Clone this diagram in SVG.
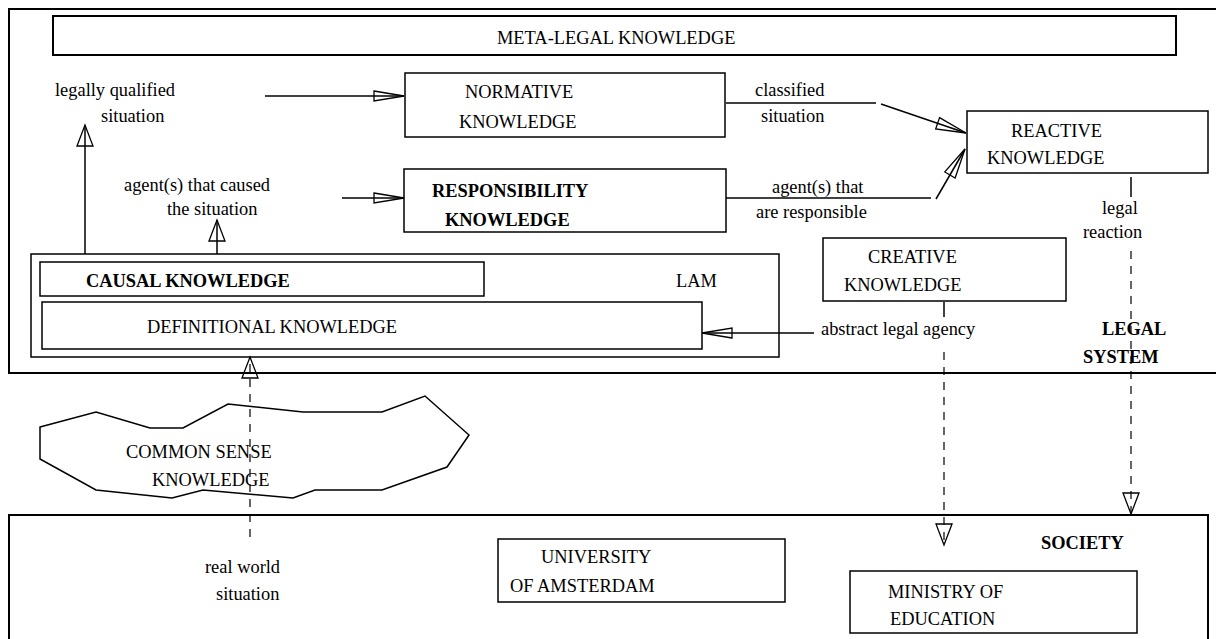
<svg xmlns="http://www.w3.org/2000/svg" width="1216" height="639" viewBox="0 0 1216 639">
<style>
.box{fill:none;stroke:#000;stroke-width:1.5}
.outer{fill:none;stroke:#000;stroke-width:2}
.t{font-family:"Liberation Serif","Times New Roman",serif;font-size:18.4px;fill:#000}
.b{font-weight:bold}
.c{fill:none;stroke:#000;stroke-width:1.5}
.d{fill:none;stroke:#000;stroke-width:1.2;stroke-dasharray:8 7}
</style>
<defs>
<marker id="ah" viewBox="0 0 30 10" refX="30" refY="5" markerWidth="30" markerHeight="10" orient="auto" markerUnits="userSpaceOnUse" overflow="visible">
<path d="M0,0 L30,5 L0,10 Z" fill="none" stroke="#000" stroke-width="1.3" stroke-dasharray="none"/>
</marker>
<marker id="ad" viewBox="0 0 30 12" refX="30" refY="6" markerWidth="30" markerHeight="12" orient="auto" markerUnits="userSpaceOnUse" overflow="visible">
<path d="M0,0 L30,6 L0,12 Z" fill="none" stroke="#000" stroke-width="1.3" stroke-dasharray="none"/>
</marker>
<marker id="av" viewBox="0 0 21 16" refX="21" refY="8" markerWidth="21" markerHeight="16" orient="auto" markerUnits="userSpaceOnUse" overflow="visible">
<path d="M0,0 L21,8 L0,16 Z" fill="none" stroke="#000" stroke-width="1.3" stroke-dasharray="none"/>
</marker>
</defs>
<rect width="1216" height="639" fill="#fff"/>

<g id="legal-system">
<rect class="outer" x="9" y="9" width="1220" height="364"/>
<text class="t b" x="1102" y="335">LEGAL</text>
<text class="t b" x="1083" y="363">SYSTEM</text>
</g>

<g id="society">
<rect class="outer" x="9" y="515" width="1199" height="140"/>
<text class="t b" x="1041" y="549">SOCIETY</text>
</g>

<g id="meta-legal">
<rect class="outer" x="53" y="16" width="1123" height="39"/>
<text class="t" x="497" y="44">META-LEGAL KNOWLEDGE</text>
</g>

<g id="normative">
<rect class="box" x="405" y="73" width="320" height="64"/>
<text class="t" x="465" y="98">NORMATIVE</text>
<text class="t" x="459" y="128">KNOWLEDGE</text>
</g>

<g id="responsibility">
<rect class="box" x="404" y="169" width="322" height="63"/>
<text class="t b" x="432" y="197">RESPONSIBILITY</text>
<text class="t b" x="445" y="226">KNOWLEDGE</text>
</g>

<g id="reactive">
<rect class="box" x="967" y="111" width="241" height="62"/>
<text class="t" x="1011" y="137">REACTIVE</text>
<text class="t" x="987" y="164">KNOWLEDGE</text>
</g>

<g id="creative">
<rect class="box" x="823" y="238" width="243" height="63"/>
<text class="t" x="868" y="263">CREATIVE</text>
<text class="t" x="844" y="291">KNOWLEDGE</text>
</g>

<g id="lam">
<rect class="box" x="31" y="254" width="748" height="103"/>
<text class="t" x="676" y="287">LAM</text>
</g>

<g id="causal">
<rect class="box" x="40" y="262" width="444" height="34"/>
<text class="t b" x="86" y="287">CAUSAL KNOWLEDGE</text>
</g>

<g id="definitional">
<rect class="box" x="42" y="302" width="660" height="47"/>
<text class="t" x="147" y="333">DEFINITIONAL KNOWLEDGE</text>
</g>

<g id="common-sense">
<polygon class="box" points="40,427 96,412 150,428 183,428 228,404 303,412 382,412 425,396 469,435 447,467 382,490 315,490 293,498 203,490 172,498 96,490 40,459"/>
<text class="t" x="126" y="458">COMMON SENSE</text>
<text class="t" x="152" y="486">KNOWLEDGE</text>
</g>

<g id="university">
<rect class="box" x="498" y="539" width="287" height="63"/>
<text class="t" x="541" y="563">UNIVERSITY</text>
<text class="t" x="510" y="592">OF AMSTERDAM</text>
</g>

<g id="ministry">
<rect class="box" x="850" y="571" width="287" height="62"/>
<text class="t" x="888" y="598">MINISTRY OF</text>
<text class="t" x="890" y="625">EDUCATION</text>
</g>

<g id="connectors">
<path class="c" d="M265,96 H404" marker-end="url(#ah)"/>
<path class="c" d="M342,198 H404" marker-end="url(#ah)"/>
<path class="c" d="M726,103 H876"/>
<path class="c" d="M881,104 L966,133" marker-end="url(#ad)"/>
<path class="c" d="M726,198 H931"/>
<path class="c" d="M936,199 L965,149" marker-end="url(#ad)"/>
<path class="c" d="M85,254 V125" marker-end="url(#av)"/>
<path class="c" d="M217,254 V220" marker-end="url(#av)"/>
<path class="c" d="M814,333 H702" marker-end="url(#ah)"/>
<path class="d" d="M250,537 V357" marker-end="url(#av)"/>
<path class="c" d="M944,302 V317"/>
<path class="d" d="M944,352 V545" marker-end="url(#av)"/>
<path class="c" d="M1131,177 V197"/>
<path class="d" d="M1131,251 V514" marker-end="url(#av)"/>
</g>

<g id="labels">
<text class="t" x="55" y="96">legally qualified</text>
<text class="t" x="101" y="122">situation</text>
<text class="t" x="124" y="191">agent(s) that caused</text>
<text class="t" x="167" y="215">the situation</text>
<text class="t" x="755" y="96">classified</text>
<text class="t" x="761" y="122">situation</text>
<text class="t" x="772" y="193">agent(s) that</text>
<text class="t" x="756" y="218">are responsible</text>
<text class="t" x="1102" y="214">legal</text>
<text class="t" x="1083" y="238">reaction</text>
<text class="t" x="821" y="335">abstract legal agency</text>
<text class="t" x="205" y="573">real world</text>
<text class="t" x="216" y="600">situation</text>
</g>
</svg>
